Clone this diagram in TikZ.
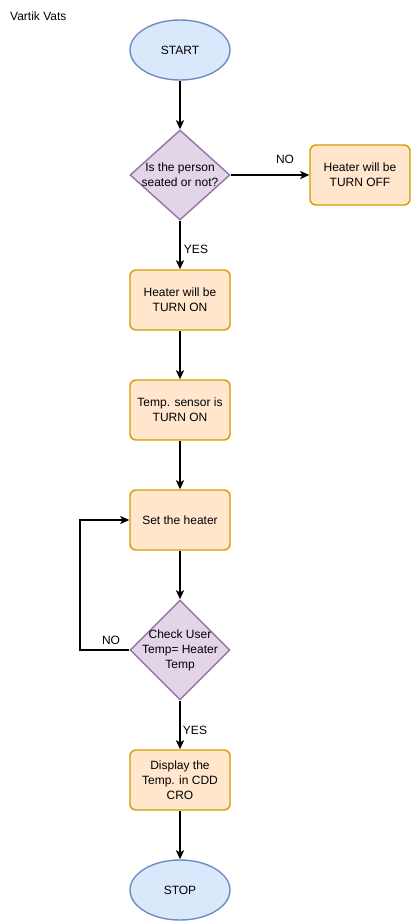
\documentclass[tikz,border=0pt]{standalone}
\usepackage{fontspec}
\setmainfont{Liberation Sans}
\usetikzlibrary{shapes.geometric,arrows.meta}
\definecolor{rfill}{HTML}{FFE6CC}
\definecolor{rdraw}{HTML}{D79B00}
\definecolor{efill}{HTML}{DAE8FC}
\definecolor{edraw}{HTML}{6C8EBF}
\definecolor{dfill}{HTML}{E1D5E7}
\definecolor{ddraw}{HTML}{9673A6}
\tikzset{
  base/.style={font=\fontsize{12}{15}\selectfont, align=center, inner sep=0pt},
  procbox/.style={base, rectangle, rounded corners=6pt, draw=rdraw, fill=rfill, line width=1.4pt, minimum width=100pt, minimum height=60pt},
  termnode/.style={base, ellipse, draw=edraw, fill=efill, line width=1.4pt, minimum width=100pt, minimum height=60pt},
  decnode/.style={diamond, draw=ddraw, fill=dfill, line width=1.4pt, minimum width=100pt, minimum height=#1, inner sep=0pt},
  dectext/.style={base},
  conn/.style={line width=1.5pt, -{Stealth[length=9pt,width=8pt,inset=2pt]}},
  lbl/.style={font=\fontsize{12}{15}\selectfont, inner sep=0pt}
}
\begin{document}
\begin{tikzpicture}[x=1pt,y=-1pt]
\useasboundingbox (0,0) rectangle (412,922);
\node[lbl, anchor=west] (title) at (10,16) {Vartik Vats};
\node[termnode] (start) at (180,50) {START};
\node[decnode=90pt] (d1) at (180,175) {};
\node[dectext] (d1t) at (180,175) {Is the person\\seated or not?};
\node[procbox] (off) at (360,175) {Heater will be\\TURN OFF};
\node[procbox] (on) at (180,300) {Heater will be\\TURN ON};
\node[procbox] (sensor) at (180,410) {Temp. sensor is\\TURN ON};
\node[procbox] (set) at (180,520) {Set the heater};
\node[decnode=100pt] (d2) at (180,650) {};
\node[dectext] (d2t) at (180,650) {Check User\\Temp= Heater\\Temp};
\node[procbox] (disp) at (180,780) {Display the\\Temp. in CDD\\CRO};
\node[termnode] (stop) at (180,890) {STOP};
\coordinate (loop) at (80,650);
\draw[conn] (start) -- (d1);
\draw[conn] (d1.east) -- (off.west);
\draw[conn] (d1.south) -- (on.north);
\draw[conn] (on) -- (sensor);
\draw[conn] (sensor) -- (set);
\draw[conn] (set) -- (d2);
\draw[conn] (d2.west) -- (loop) |- (set.west);
\draw[conn] (d2.south) -- (disp.north);
\draw[conn] (disp) -- (stop);
\node[lbl] (lno1) at (285,159) {NO};
\node[lbl] (lyes1) at (196,249) {YES};
\node[lbl] (lno2) at (111,640) {NO};
\node[lbl] (lyes2) at (195,730) {YES};
\end{tikzpicture}
\end{document}
